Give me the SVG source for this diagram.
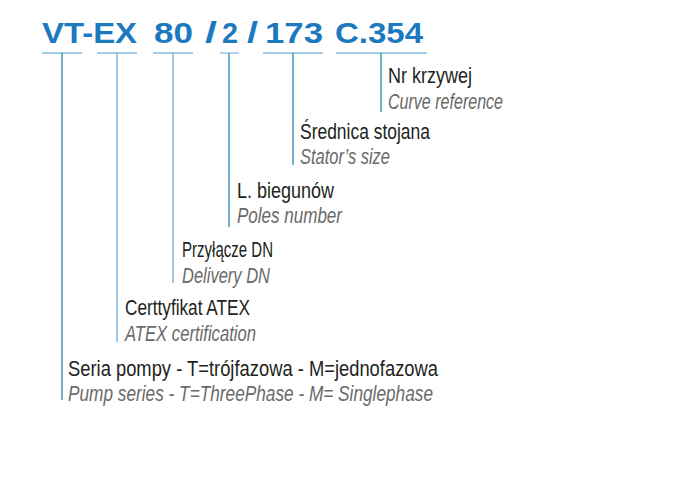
<svg xmlns="http://www.w3.org/2000/svg" width="700" height="500" viewBox="0 0 700 500">
<style>
.code{font-family:"Liberation Sans",Arial,sans-serif;font-weight:bold;font-size:29.5px;fill:#1b79c0}
.pl{font-family:"Liberation Sans Narrow","Liberation Sans",Arial,sans-serif;font-size:21.5px;fill:#231f20}
.en{font-family:"Liberation Sans Narrow","Liberation Sans",Arial,sans-serif;font-size:21.5px;font-style:italic;fill:#6a6a6a}
.ul{stroke:#86bde3;stroke-width:1.3;fill:none}
.vd{stroke:#2c84b6;stroke-width:1.3;fill:none}
.vl{stroke:#86bde3;stroke-width:1.6;fill:none}
</style>
<rect width="700" height="500" fill="#ffffff"/>
<g id="code">
<text class="code" x="42" y="43" textLength="95" lengthAdjust="spacingAndGlyphs">VT-EX</text>
<text class="code" x="154" y="43" textLength="39" lengthAdjust="spacingAndGlyphs">80</text>
<text class="code" x="205" y="43" textLength="12" lengthAdjust="spacingAndGlyphs">/</text>
<text class="code" x="222" y="43" textLength="16" lengthAdjust="spacingAndGlyphs">2</text>
<text class="code" x="247" y="43" textLength="11" lengthAdjust="spacingAndGlyphs">/</text>
<text class="code" x="265" y="43" textLength="58" lengthAdjust="spacingAndGlyphs">173</text>
<text class="code" x="335" y="43" textLength="88" lengthAdjust="spacingAndGlyphs">C.354</text>
</g>
<g id="connectors">
<line class="ul" x1="42" y1="53" x2="82" y2="53"/>
<line class="ul" x1="97" y1="53" x2="137" y2="53"/>
<line class="ul" x1="153" y1="53" x2="193" y2="53"/>
<line class="ul" x1="220" y1="53" x2="239" y2="53"/>
<line class="ul" x1="263" y1="53" x2="323" y2="53"/>
<line class="ul" x1="336" y1="53" x2="427" y2="53"/>
<line class="vd" x1="62" y1="53" x2="62" y2="400"/>
<line class="vl" x1="117" y1="53" x2="117" y2="342"/>
<line class="vl" x1="173" y1="53" x2="173" y2="283"/>
<line class="vd" x1="229" y1="53" x2="229" y2="227"/>
<line class="vd" x1="293" y1="53" x2="293" y2="165"/>
<line class="vd" x1="381" y1="53" x2="381" y2="112"/>
</g>
<g id="curve">
<text class="pl" x="388" y="83" textLength="84" lengthAdjust="spacingAndGlyphs">Nr krzywej</text>
<text class="en" x="388" y="109" textLength="115" lengthAdjust="spacingAndGlyphs">Curve reference</text>
</g>
<g id="stator">
<text class="pl" x="300" y="139" textLength="130" lengthAdjust="spacingAndGlyphs">Średnica stojana</text>
<text class="en" x="300" y="164" textLength="90" lengthAdjust="spacingAndGlyphs">Stator’s size</text>
</g>
<g id="poles">
<text class="pl" x="237" y="198" textLength="97" lengthAdjust="spacingAndGlyphs">L. biegunów</text>
<text class="en" x="237" y="223" textLength="105" lengthAdjust="spacingAndGlyphs">Poles number</text>
</g>
<g id="delivery">
<text class="pl" x="182" y="257" textLength="91" lengthAdjust="spacingAndGlyphs">Przyłącze DN</text>
<text class="en" x="182" y="283" textLength="88" lengthAdjust="spacingAndGlyphs">Delivery DN</text>
</g>
<g id="atex">
<text class="pl" x="125" y="315" textLength="125" lengthAdjust="spacingAndGlyphs">Certtyfikat ATEX</text>
<text class="en" x="125" y="341" textLength="131" lengthAdjust="spacingAndGlyphs">ATEX certification</text>
</g>
<g id="series">
<text class="pl" x="68" y="376" textLength="370" lengthAdjust="spacingAndGlyphs">Seria pompy - T=trójfazowa - M=jednofazowa</text>
<text class="en" x="68" y="401" textLength="365" lengthAdjust="spacingAndGlyphs">Pump series - T=ThreePhase - M= Singlephase</text>
</g>
</svg>
